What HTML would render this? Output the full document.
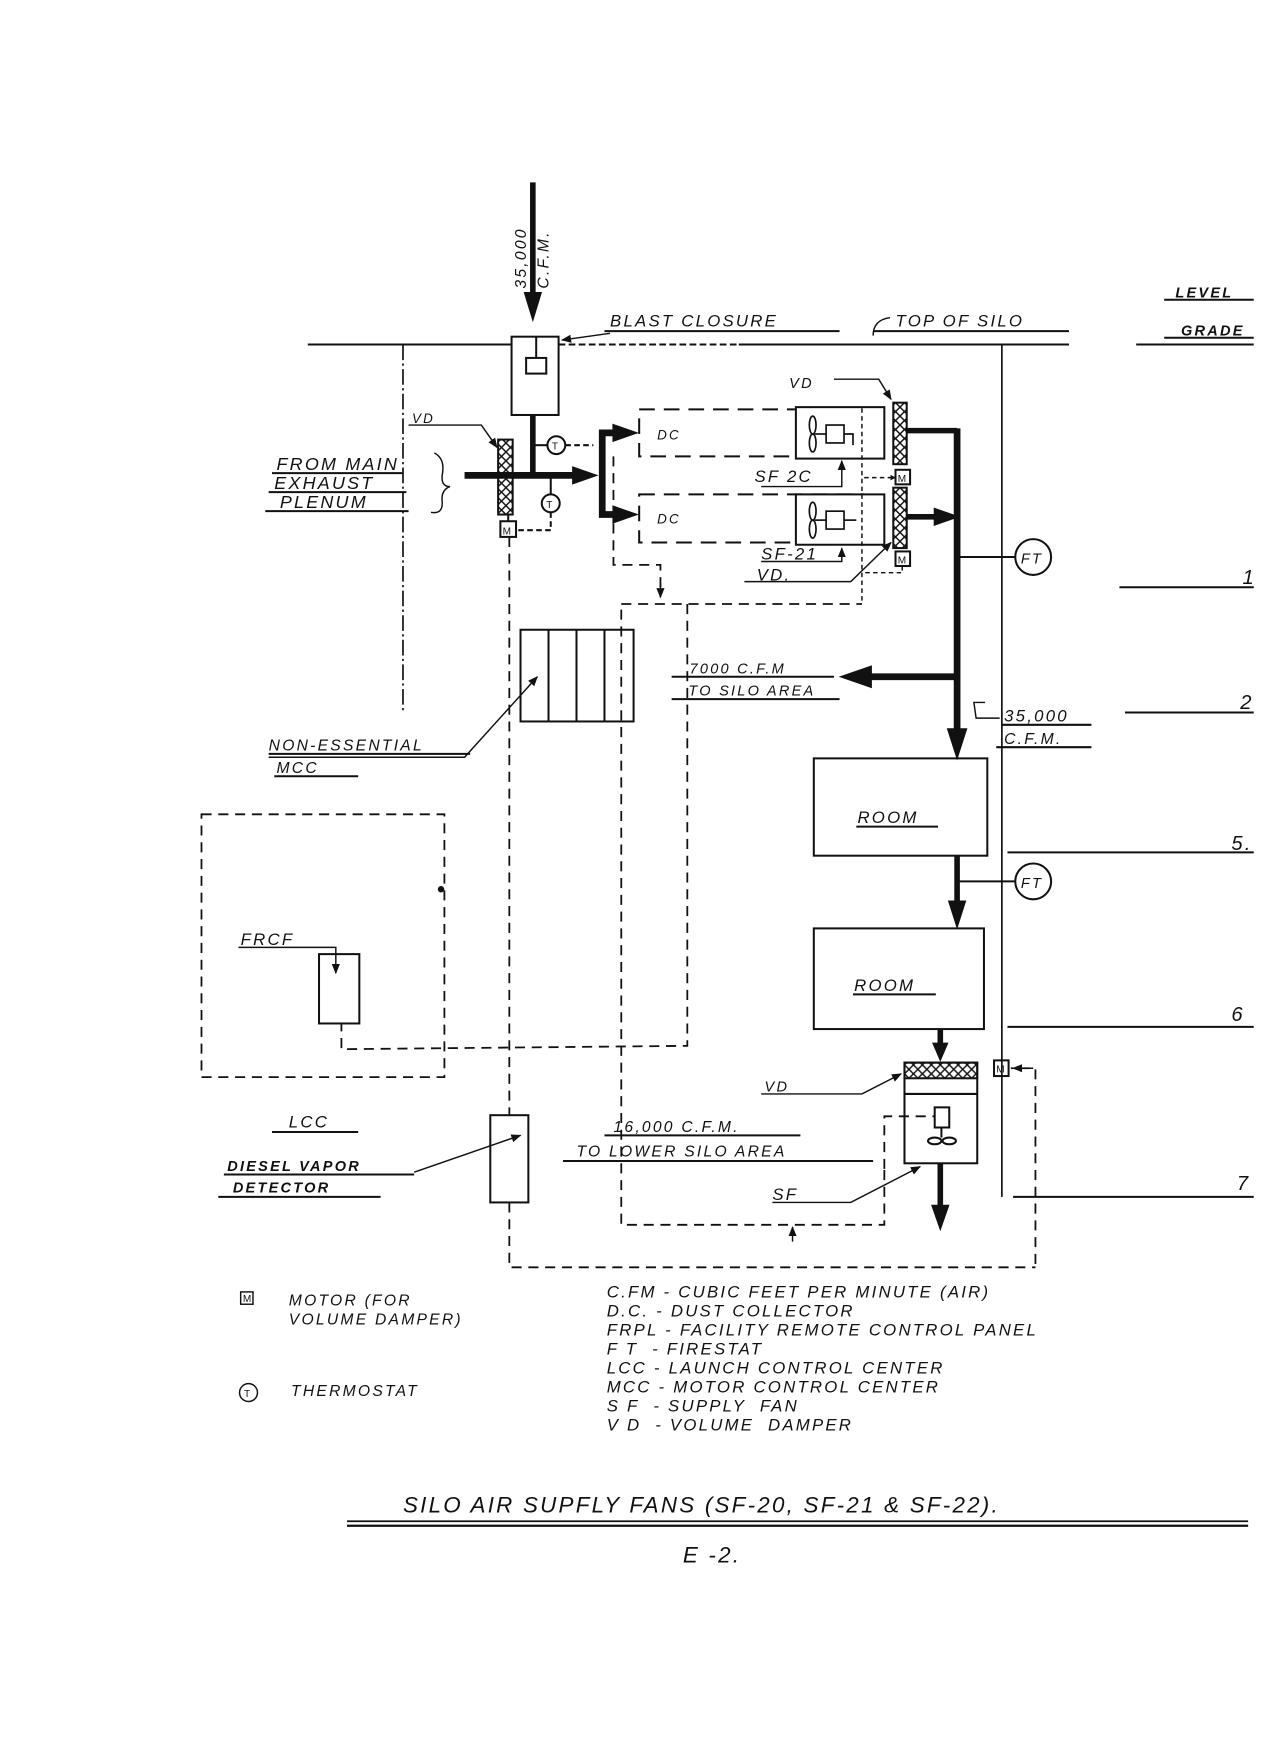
<!DOCTYPE html>
<html><head><meta charset="utf-8"><style>
html,body{margin:0;padding:0;background:#fff;}
svg{display:block;}
text{font-family:"Liberation Sans",sans-serif;font-style:italic;fill:#111;letter-spacing:2px;}
</style></head><body>
<svg width="1275" height="1755" viewBox="0 0 1139 1569" preserveAspectRatio="none" xmlns="http://www.w3.org/2000/svg">
<defs>
<marker id="ah" viewBox="0 0 10 10" refX="9" refY="5" markerWidth="4" markerHeight="4" orient="auto"><path d="M0,0 L10,5 L0,10 z" fill="#111"/></marker>
<marker id="as" viewBox="0 0 10 10" refX="9" refY="5" markerWidth="7" markerHeight="7" orient="auto"><path d="M0,1 L10,5 L0,9 z" fill="#111"/></marker>
<pattern id="hatch" width="8" height="8" patternUnits="userSpaceOnUse"><path d="M0,0 L8,8 M8,0 L0,8" stroke="#111" stroke-width="1.3"/></pattern>
</defs>
<g stroke="#111" fill="none" stroke-width="1.8">
<line x1="476" y1="163" x2="476" y2="265" stroke-width="5"/>
<path d="M469,262 L483,262 L476,285 z" fill="#111"/>
<line x1="275" y1="308" x2="457" y2="308"/>
<line x1="499" y1="308" x2="660" y2="308" stroke-dasharray="6,3"/>
<line x1="660" y1="308" x2="955" y2="308"/>
<line x1="1015" y1="308" x2="1120" y2="308"/>
<line x1="540" y1="296" x2="750" y2="296"/>
<line x1="780" y1="296" x2="955" y2="296"/>
<line x1="1040" y1="268" x2="1120" y2="268"/>
<line x1="1040" y1="302" x2="1120" y2="302"/>
<path d="M545,298 L502,304" marker-end="url(#as)" stroke-width="1.3"/>
<path d="M795,284 Q780,286 780,300" stroke-width="1.3"/>
<line x1="360" y1="308" x2="360" y2="635" stroke-dasharray="14,3,2,3" stroke-width="1.5"/>
<line x1="895" y1="308" x2="895" y2="1070" stroke-width="1.5"/>
<line x1="1000" y1="525" x2="1120" y2="525"/>
<line x1="1005" y1="637" x2="1120" y2="637"/>
<line x1="900" y1="762" x2="1120" y2="762"/>
<line x1="900" y1="918" x2="1120" y2="918"/>
<line x1="905" y1="1070" x2="1120" y2="1070"/>
<rect x="457" y="301" width="42" height="70"/>
<rect x="470" y="320" width="18" height="14"/>
<line x1="479" y1="301" x2="479" y2="320"/>
<line x1="476" y1="371" x2="476" y2="425" stroke-width="5"/>
<line x1="415" y1="425" x2="515" y2="425" stroke-width="6"/>
<path d="M512,418 L532,425 L512,432 z" fill="#111"/>
<rect x="445" y="393" width="13" height="67" fill="url(#hatch)"/>
<rect x="447" y="466" width="14" height="14"/>
<line x1="454" y1="460" x2="454" y2="466"/>
<circle cx="497" cy="398" r="8"/><line x1="476" y1="398" x2="489" y2="398"/>
<line x1="505" y1="398" x2="530" y2="398" stroke-dasharray="5,3"/>
<circle cx="492" cy="450" r="8"/><line x1="492" y1="425" x2="492" y2="442"/>
<path d="M492,458 L492,474 L461,474" stroke-dasharray="5,3"/>
<path d="M552,387 L538,387 L538,460 L552,460" stroke-width="6"/>
<path d="M548,380 L568,387 L548,394 z" fill="#111"/>
<path d="M548,453 L568,460 L548,467 z" fill="#111"/>
<rect x="571" y="366" width="200" height="42" stroke-dasharray="14,8"/>
<rect x="571" y="442" width="200" height="43" stroke-dasharray="14,8"/>
<rect x="711" y="364" width="79" height="46" fill="#fff"/>
<rect x="711" y="442" width="79" height="45" fill="#fff"/>
<g stroke-width="1.5">
<ellipse cx="726" cy="380" rx="3" ry="8"/><ellipse cx="726" cy="396" rx="3" ry="8"/>
<line x1="728" y1="388" x2="738" y2="388"/><rect x="738" y="380" width="16" height="16"/><path d="M754,388 L762,388 L762,398"/>
<ellipse cx="726" cy="457" rx="3" ry="8"/><ellipse cx="726" cy="473" rx="3" ry="8"/>
<line x1="728" y1="465" x2="738" y2="465"/><rect x="738" y="457" width="16" height="16"/><path d="M754,465 L765,465"/>
</g>
<rect x="798" y="360" width="12" height="55" fill="url(#hatch)"/>
<rect x="798" y="436" width="12" height="54" fill="url(#hatch)"/>
<rect x="800" y="420" width="13" height="13"/>
<rect x="800" y="493" width="13" height="13"/>
<path d="M745,339 L785,339 L796,357" marker-end="url(#as)" stroke-width="1.3"/>
<path d="M680,435 L752,435 L752,412" marker-end="url(#as)" stroke-width="1.3"/>
<path d="M680,502 L752,502 L752,490" marker-end="url(#as)" stroke-width="1.3"/>
<path d="M665,520 L760,520 L796,485" marker-end="url(#as)" stroke-width="1.3"/>
<path d="M770,365 L770,540" stroke-dasharray="4,3" stroke-width="1.3"/>
<path d="M772,427 L800,427" stroke-dasharray="4,3" stroke-width="1.3" marker-end="url(#ah)"/>
<path d="M806,506 L806,512 L770,512" stroke-dasharray="4,3" stroke-width="1.3"/>
<line x1="810" y1="385" x2="855" y2="385" stroke-width="5"/>
<line x1="810" y1="462" x2="840" y2="462" stroke-width="5"/>
<path d="M835,455 L855,462 L835,469 z" fill="#111"/>
<line x1="855" y1="383" x2="855" y2="655" stroke-width="6"/>
<path d="M847,652 L863,652 L855,677 z" fill="#111"/>
<line x1="855" y1="498" x2="907" y2="498"/>
<circle cx="923" cy="498" r="16"/>
<line x1="855" y1="605" x2="775" y2="605" stroke-width="6"/>
<path d="M778,596 L752,605 L778,614 z" fill="#111"/>
<path d="M880,628 L870,628 L872,642 L893,642" stroke-width="1.3"/>
<rect x="727" y="678" width="155" height="87"/>
<rect x="727" y="830" width="152" height="90"/>
<line x1="855" y1="765" x2="855" y2="808" stroke-width="5"/>
<path d="M848,806 L862,806 L855,828 z" fill="#111"/>
<line x1="855" y1="788" x2="907" y2="788"/>
<circle cx="923" cy="788" r="16"/>
<line x1="840" y1="920" x2="840" y2="935" stroke-width="5"/>
<path d="M834,933 L846,933 L840,947 z" fill="#111"/>
<rect x="808" y="950" width="65" height="90"/>
<rect x="808" y="950" width="65" height="14" fill="url(#hatch)"/>
<line x1="808" y1="978" x2="873" y2="978"/>
<rect x="835" y="990" width="13" height="18"/>
<ellipse cx="835" cy="1020" rx="6" ry="3"/><ellipse cx="848" cy="1020" rx="6" ry="3"/>
<line x1="841" y1="1008" x2="841" y2="1017"/>
<line x1="840" y1="1040" x2="840" y2="1080" stroke-width="5"/>
<path d="M833,1078 L847,1078 L840,1098 z" fill="#111"/>
<rect x="888" y="948" width="13" height="14"/>
<path d="M680,978 L770,978 L805,960" marker-end="url(#as)" stroke-width="1.3"/>
<path d="M690,1075 L760,1075 L822,1043" marker-end="url(#as)" stroke-width="1.3"/>
<g stroke-dasharray="9,6" stroke-width="1.6">
<path d="M925,1130 L925,955 L903,955"/>
<path d="M455,480 L455,997"/>
<path d="M455,1075 L455,1133 L925,1133"/>
<path d="M548,408 L548,505 L590,505 L590,530"/>
<path d="M555,545 L555,1095 L790,1095 L790,1045"/>
<path d="M555,540 L770,540"/>
<path d="M614,540 L614,935 L305,938 L305,915"/>
<path d="M790,1045 L790,998 L835,998"/>
<rect x="180" y="728" width="217" height="235"/>
</g>
<path d="M590,522 L590,534" marker-end="url(#as)" stroke-width="1.3"/>
<path d="M708,1110 L708,1097" marker-end="url(#as)" stroke-width="1.3"/>
<path d="M923,955 L905,955" marker-end="url(#as)" stroke-width="1.3"/>
<circle cx="394" cy="795" r="2" fill="#111"/>
<rect x="465" y="563" width="101" height="82"/>
<line x1="490" y1="563" x2="490" y2="645"/><line x1="515" y1="563" x2="515" y2="645"/><line x1="540" y1="563" x2="540" y2="645"/>
<path d="M240,677 L415,677 L480,605" marker-end="url(#as)" stroke-width="1.3"/>
<rect x="285" y="853" width="36" height="62"/>
<path d="M213,847 L300,847 L300,870" marker-end="url(#as)" stroke-width="1.3"/>
<rect x="438" y="997" width="34" height="78"/>
<path d="M370,1048 L465,1015" marker-end="url(#as)" stroke-width="1.3"/>
<line x1="243" y1="423" x2="360" y2="423"/><line x1="240" y1="440" x2="363" y2="440"/><line x1="237" y1="457" x2="365" y2="457"/>
<path d="M388,405 Q398,410 395,425 Q394,435 402,435 Q394,438 395,448 Q396,460 385,458" stroke-width="1.3"/>
<path d="M365,380 L430,380 L444,400" marker-end="url(#as)" stroke-width="1.3"/>
<line x1="600" y1="605" x2="745" y2="605"/><line x1="600" y1="625" x2="750" y2="625"/>
<line x1="895" y1="648" x2="975" y2="648"/><line x1="890" y1="668" x2="975" y2="668"/>
<line x1="240" y1="674" x2="420" y2="674"/><line x1="245" y1="694" x2="320" y2="694"/>
<line x1="765" y1="739" x2="838" y2="739"/><line x1="762" y1="889" x2="836" y2="889"/>
<line x1="243" y1="1012" x2="320" y2="1012"/>
<line x1="200" y1="1050" x2="370" y2="1050"/><line x1="195" y1="1070" x2="340" y2="1070"/>
<line x1="540" y1="1015" x2="715" y2="1015"/><line x1="503" y1="1038" x2="780" y2="1038"/>
<line x1="310" y1="1360" x2="1115" y2="1360" stroke-width="1.5"/>
<line x1="310" y1="1364" x2="1115" y2="1364" stroke-width="2"/>
<rect x="215" y="1155" width="11" height="11" stroke-width="1.3"/>
<circle cx="222" cy="1245" r="8" stroke-width="1.3"/>
</g>
<g font-size="14">
<text x="0" y="0" transform="translate(470,258) rotate(-90)">35,000</text>
<text x="0" y="0" transform="translate(490,258) rotate(-90)">C.F.M.</text>
<text x="545" y="292" font-size="15">BLAST CLOSURE</text>
<text x="800" y="292" font-size="15">TOP OF SILO</text>
<text x="1050" y="266" font-weight="bold" font-size="13">LEVEL</text>
<text x="1055" y="300" font-weight="bold" font-size="13">GRADE</text>
<text x="368" y="378" font-size="12">VD</text>
<text x="705" y="347" font-size="13">VD</text>
<text x="247" y="420" font-size="16">FROM MAIN</text>
<text x="245" y="437" font-size="16">EXHAUST</text>
<text x="250" y="454" font-size="16">PLENUM</text>
<text x="587" y="393" font-size="12">DC</text>
<text x="587" y="468" font-size="12">DC</text>
<text x="674" y="431" font-size="15">SF 2C</text>
<text x="680" y="500" font-size="15">SF-21</text>
<text x="676" y="519" font-size="15">VD.</text>
<text x="616" y="602" font-size="13">7000 C.F.M</text>
<text x="615" y="622" font-size="13">TO SILO AREA</text>
<text x="897" y="645" font-size="15">35,000</text>
<text x="897" y="665" font-size="14">C.F.M.</text>
<text x="240" y="671" font-size="14">NON-ESSENTIAL</text>
<text x="247" y="691" font-size="14">MCC</text>
<text x="766" y="736" font-size="15">ROOM</text>
<text x="763" y="886" font-size="15">ROOM</text>
<text x="912" y="504" font-size="13">FT</text>
<text x="912" y="794" font-size="13">FT</text>
<text x="1110" y="522" font-size="18">1</text>
<text x="1108" y="634" font-size="18">2</text>
<text x="1100" y="760" font-size="18">5.</text>
<text x="1100" y="913" font-size="18">6</text>
<text x="1105" y="1064" font-size="18">7</text>
<text x="215" y="845" font-size="15">FRCF</text>
<text x="258" y="1008" font-size="15">LCC</text>
<text x="203" y="1047" font-size="13" font-weight="bold">DIESEL VAPOR</text>
<text x="208" y="1066" font-size="13" font-weight="bold">DETECTOR</text>
<text x="683" y="976" font-size="13">VD</text>
<text x="548" y="1012" font-size="14">16,000 C.F.M.</text>
<text x="515" y="1034" font-size="14">TO LOWER SILO AREA</text>
<text x="690" y="1073" font-size="15">SF</text>
<text x="258" y="1167" font-size="14">MOTOR (FOR</text>
<text x="258" y="1184" font-size="14">VOLUME DAMPER)</text>
<text x="260" y="1248" font-size="14">THERMOSTAT</text>
<g font-size="15">
<text x="542" y="1160">C.FM - CUBIC FEET PER MINUTE (AIR)</text>
<text x="542" y="1177">D.C. - DUST COLLECTOR</text>
<text x="542" y="1194">FRPL - FACILITY REMOTE CONTROL PANEL</text>
<text x="542" y="1211">F T&#160;&#160;- FIRESTAT</text>
<text x="542" y="1228">LCC - LAUNCH CONTROL CENTER</text>
<text x="542" y="1245">MCC - MOTOR CONTROL CENTER</text>
<text x="542" y="1262">S F&#160;&#160;- SUPPLY&#160;&#160;FAN</text>
<text x="542" y="1279">V D&#160;&#160;- VOLUME&#160;&#160;DAMPER</text>
</g>
<text x="360" y="1352" font-size="20" letter-spacing="4">SILO AIR SUPFLY FANS (SF-20, SF-21 &amp; SF-22).</text>
<text x="610" y="1397" font-size="20" letter-spacing="3">E -2.</text>
</g>
<g fill="#111" font-size="9">
<text x="449" y="478" style="font-style:normal">M</text>
<text x="802" y="431" style="font-style:normal">M</text>
<text x="802" y="504" style="font-style:normal">M</text>
<text x="890" y="959" style="font-style:normal">M</text>
<text x="217" y="1164" style="font-style:normal">M</text>
<text x="493" y="402" style="font-style:normal">T</text>
<text x="488" y="454" style="font-style:normal">T</text>
<text x="218" y="1249" style="font-style:normal">T</text>
</g>
</svg>
</body></html>
